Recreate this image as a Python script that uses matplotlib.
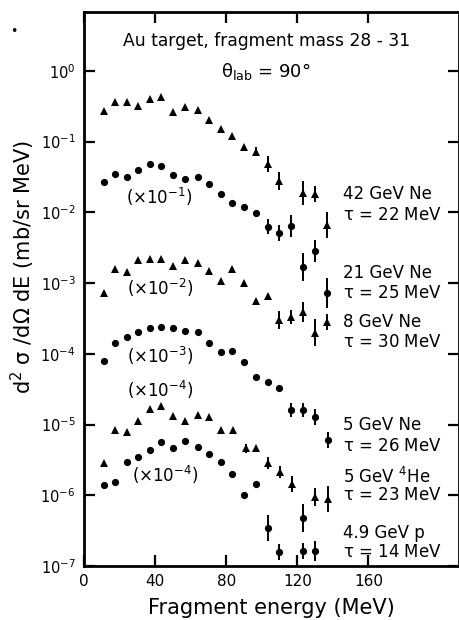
import numpy as np
import matplotlib
matplotlib.use("Agg")
import matplotlib.pyplot as plt
from matplotlib.ticker import LogFormatterMathtext, NullLocator

# Fragment energy grids (MeV) and double-differential cross sections (mb/sr MeV),
# unscaled; each series is multiplied by its display factor when drawn.
e_42ne = [11, 17.5, 24, 30.5, 37, 43.5, 50, 57, 64, 70.5, 77, 83.5, 90, 97, 103.5, 110, 123.5, 130, 136.5]
xs_42ne = [0.27, 0.36, 0.36, 0.32, 0.40, 0.43, 0.26, 0.31, 0.28, 0.20, 0.15, 0.12, 0.084, 0.072,
           0.048, 0.028, 0.019, 0.018, 0.0066]
err_42ne = [1] * 13 + [1.15, 1.3, 1.34, 1.48, 1.3, 1.53]

e_21ne = [11, 17.5, 24, 30.5, 37, 43.5, 50, 57, 64, 70.5, 77, 83.5, 90, 97, 103.5, 110, 116.5, 123.5, 130, 136.5]
xs_21ne = [0.27, 0.35, 0.32, 0.40, 0.48, 0.45, 0.34, 0.30, 0.32, 0.25, 0.18, 0.135, 0.12, 0.098,
           0.063, 0.051, 0.064, 0.017, 0.028, 0.0072]
err_21ne = [1] * 14 + [1.26, 1.3, 1.43, 1.58, 1.43, 1.63]

e_8ne = [11, 17.5, 24, 30.5, 37, 43.5, 50, 57, 64, 70.5, 77, 83.5, 90, 97, 103.5, 110, 116.5, 123.5, 130, 136.5]
xs_8ne = [0.072, 0.16, 0.145, 0.21, 0.22, 0.22, 0.175, 0.21, 0.19, 0.148, 0.107, 0.158, 0.099, 0.056,
          0.066, 0.030, 0.033, 0.039, 0.020, 0.028]
err_8ne = [1] * 15 + [1.34, 1.26, 1.38, 1.53, 1.3]

e_5ne = [11, 17.5, 24, 30.5, 37, 43.5, 50, 57, 64, 70.5, 77, 83.5, 90, 97, 103.5, 110, 116.5, 123.5, 130, 137.5]
xs_5ne = [0.080, 0.143, 0.175, 0.206, 0.23, 0.237, 0.234, 0.212, 0.206, 0.143, 0.105, 0.111, 0.077,
          0.047, 0.040, 0.0325, 0.016, 0.016, 0.0129, 0.0060]
err_5ne = [1] * 16 + [1.26, 1.26, 1.3, 1.3]

e_5he = [11, 17.5, 24, 30.5, 37, 43.5, 50, 57, 64, 70.5, 77, 84, 91, 97, 103.5, 110.5, 117, 130, 137.5]
xs_5he = [0.029, 0.084, 0.079, 0.113, 0.164, 0.183, 0.132, 0.113, 0.136, 0.128, 0.085, 0.085, 0.046,
          0.0465, 0.0285, 0.0215, 0.0144, 0.0095, 0.0088]
err_5he = [1] * 12 + [1.15, 1.0, 1.22, 1.22, 1.3, 1.34, 1.53]

e_p = [11, 17.5, 24, 30.5, 37, 43.5, 50, 57, 64, 70.5, 77, 83.5, 90, 97, 103.5, 110, 123.5, 123.5, 130]
xs_p = [0.0139, 0.0155, 0.0298, 0.0351, 0.0436, 0.0571, 0.046, 0.059, 0.0475, 0.0383, 0.0295, 0.0201,
        0.0102, 0.0142, 0.00344, 0.00159, 0.00162, 0.00484, 0.00162]
err_p = [1] * 14 + [1.53, 1.3, 1.3, 1.58, 1.38]

energies = [e_42ne, e_21ne, e_8ne, e_5ne, e_5he, e_p]
spectra = [xs_42ne, xs_21ne, xs_8ne, xs_5ne, xs_5he, xs_p]
errors = [err_42ne, err_21ne, err_8ne, err_5ne, err_5he, err_p]
scale_exp = [0, -1, -2, -3, -4, -4]
markers = ["^", "o", "^", "o", "^", "o"]

beams = ["42 GeV Ne", "21 GeV Ne", "8 GeV Ne", "5 GeV Ne", "5 GeV $^4$He", "4.9 GeV p"]
temps = [22, 25, 30, 26, 23, 14]
beam_label_y = [0.0182, 1.39e-3, 2.8e-4, 9.8e-6, 1.81e-6, 2.9e-7]
temp_label_y = [9.2e-3, 7.2e-4, 1.47e-4, 4.97e-6, 1.0e-6, 1.6e-7]
factor_label_pos = [None, (42.3, 0.0165), (42.8, 8.5e-4), (42.8, 9.3e-5), (42.8, 3.08e-5), (45.6, 1.93e-6)]

x_ticks = [0, 40, 80, 120, 160]
y_ticks = [1e0, 1e-1, 1e-2, 1e-3, 1e-4, 1e-5, 1e-6, 1e-7]

plt.rcParams["font.family"] = ["DejaVu Sans"]
plt.rcParams["mathtext.default"] = "regular"

fig = plt.figure(figsize=(4.6, 6.2), dpi=100)
ax = fig.add_axes([84 / 460, 1 - 566 / 620, 375 / 460, 554 / 620])

for e, xs, er, k, m in zip(energies, spectra, errors, scale_exp, markers):
    e = np.asarray(e, float)
    y = np.asarray(xs, float) * 10.0 ** k
    f = np.asarray(er, float)
    yerr = [y - y / f, y * f - y]
    ax.errorbar(e, y, yerr=yerr, fmt=m, color="black", ms=5.2 if m == "o" else 5.8,
                elinewidth=1.4, capsize=0, mew=0)

ax.set_yscale("log")
ax.set_xlim(0, 211)
ax.set_ylim(1e-7, 6.8)
ax.set_xticks(x_ticks)
ax.set_yticks(y_ticks)
ax.yaxis.set_major_formatter(LogFormatterMathtext())
ax.yaxis.set_minor_locator(NullLocator())
ax.tick_params(which="major", direction="in", length=8, width=1.6,
               top=True, right=True, labelsize=11, pad=6)
ax.tick_params(axis="y", labelsize=10.5)
for sp in ax.spines.values():
    sp.set_linewidth(2.0)

ax.set_xlabel("Fragment energy (MeV)", fontsize=15, labelpad=6)
ax.set_ylabel(r"d$^2$ $\sigma$ /d$\Omega$ dE (mb/sr MeV)", fontsize=15)
ax.yaxis.set_label_coords(-0.125, 0.54)

ax.text(0.488, 0.948, "Au target, fragment mass 28 - 31", transform=ax.transAxes,
        ha="center", va="center", fontsize=12.3)
ax.text(0.485, 0.893, r"$\theta_{\mathrm{lab}}$ = 90°", transform=ax.transAxes,
        ha="center", va="center", fontsize=13)

for k, pos in zip(scale_exp, factor_label_pos):
    if pos is not None:
        ax.text(pos[0], pos[1], r"(×10$^{%d}$)" % k, ha="center", va="center", fontsize=12)

for name, t, yb, yt in zip(beams, temps, beam_label_y, temp_label_y):
    ax.text(145.5, yb, name, ha="left", va="center", fontsize=12)
    ax.text(145.5, yt, r"$\tau$ = %d MeV" % t, ha="left", va="center", fontsize=12)

fig.text(14 / 460, 1 - 32 / 620, "•", ha="center", va="center", fontsize=9)

fig.savefig("out.png", dpi=100)
